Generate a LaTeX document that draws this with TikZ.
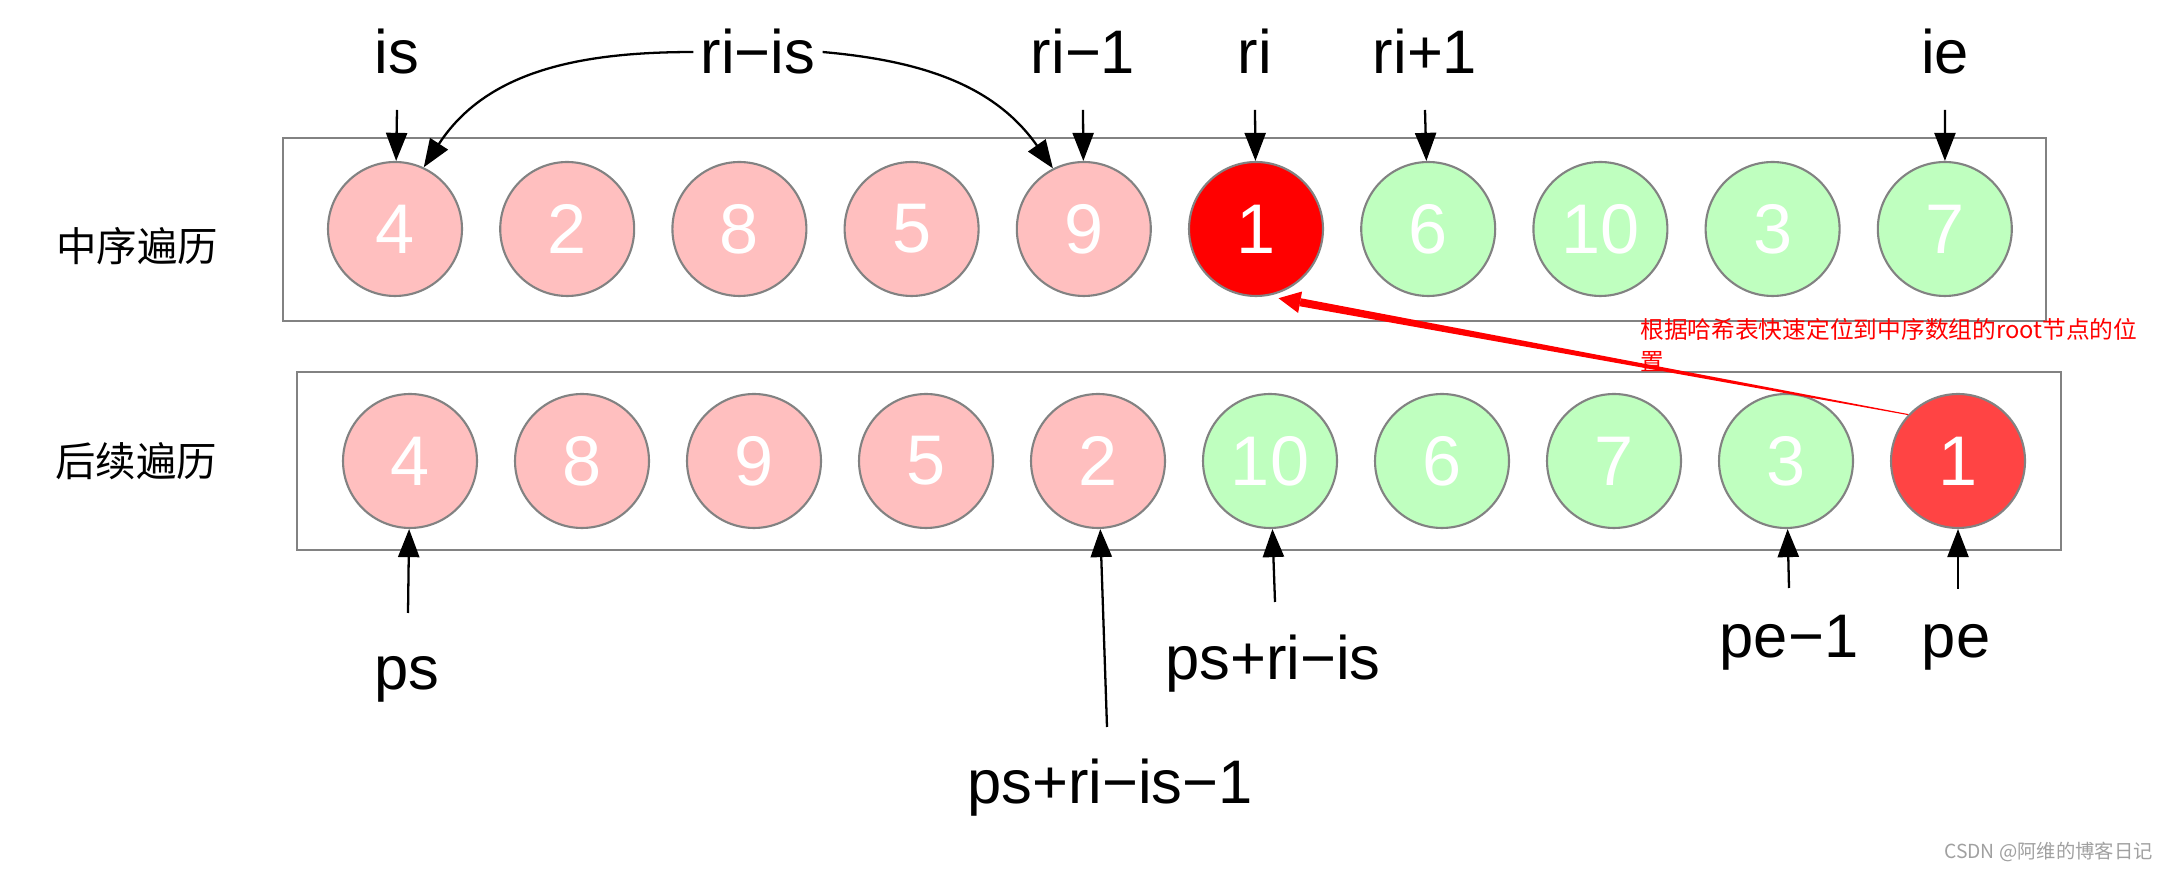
\documentclass[tikz,border=0pt]{standalone}
\usepackage{fontspec}
\setmainfont{Liberation Sans}
\newfontfamily\cjk{Noto Sans CJK SC}
\usepackage{tikz}
\usetikzlibrary{arrows.meta,calc}
\definecolor{lpink}{HTML}{FFBFBF}
\definecolor{lgreen}{HTML}{BFFFBF}
\definecolor{rootred}{HTML}{FF0000}
\definecolor{rootlight}{HTML}{FF4444}
\definecolor{rimgray}{HTML}{828282}
\definecolor{wmgray}{HTML}{A0A0A0}

\begin{document}
\begin{tikzpicture}[x=0.02cm, y=0.02cm,
    ball/.style={shape=circle, draw=rimgray, line width=1.2pt, minimum size=2.68cm,
      inner sep=0pt, text=white, font=\fontsize{40}{40}\selectfont},
    lbl/.style={anchor=base, inner sep=4pt, font=\fontsize{35}{35}\selectfont},
    side/.style={font=\cjk\fontsize{23}{23}\selectfont, inner sep=0pt},
    arr/.style={-{Triangle[length=16pt,width=12pt]}, line width=1.3pt},
    box/.style={draw=rimgray, line width=1.3pt}]
    \useasboundingbox (0,0) rectangle (2170,872);

    \draw[box] (283,551) rectangle (2046,734);
    \draw[box] (297,322) rectangle (2061,500);

    \node[side] (inlbl) at (137,626) {中序遍历};
    \node[side] (postlbl) at (136,411) {后续遍历};

    \foreach \v/\c [count=\k] in {4/lpink,2/lpink,8/lpink,5/lpink,9/lpink,1/rootred,6/lgreen,10/lgreen,3/lgreen,7/lgreen}
      \node[ball, fill=\c] (i\k) at ({395+172.2*(\k-1)},643) {\v};
    \foreach \v/\c [count=\k] in {4/lpink,8/lpink,9/lpink,5/lpink,2/lpink,10/lgreen,6/lgreen,7/lgreen,3/lgreen,1/rootlight}
      \node[ball, fill=\c] (p\k) at ({410+172*(\k-1)},411) {\v};

    \node[lbl] (is) at (397,798) {is};
    \node[lbl] (riis) at (758,798) {ri−is};
    \node[lbl] (rim) at (1083,798) {ri−1};
    \node[lbl] (ri) at (1255,798) {ri};
    \node[lbl] (rip) at (1425,798) {ri+1};
    \node[lbl] (ie) at (1945,798) {ie};

    \foreach \n/\x/\k in {is/397/1,rim/1083/5,ri/1255/6,rip/1425/7,ie/1945/10}
      \draw[arr] (\x,762) coordinate (t\n) -- (i\k);
    \draw[arr] (riis.west) to[out=180, in=57] (i1.65);
    \draw[arr] (riis.east) to[out=-5, in=125] (i5.117);

    \node[lbl] (ps) at (407,182) {ps};
    \node[lbl] (psm) at (1110,68) {ps+ri−is−1};
    \node[lbl] (psr) at (1273,192) {ps+ri−is};
    \node[lbl] (pem) at (1789,214) {pe−1};
    \node[lbl] (pe) at (1956,214) {pe};

    \coordinate (ups) at (408,259);
    \coordinate (upsm) at (1107,145);
    \coordinate (upsr) at (1275,270);
    \coordinate (upem) at (1789,284);
    \coordinate (upe) at (1958,283);
    \draw[arr] (ups) -- (p1);
    \draw[arr] (upsm) -- (p5);
    \draw[arr] (upsr) -- (p6);
    \draw[arr] (upem) -- (p9);
    \draw[arr] (upe) -- (p10);

    \coordinate (hs) at (p10.137);
    \coordinate (ht) at ($(i6.center)!1.07!(i6.-72)$);
    \coordinate (hb) at ($(ht)!12.5pt!(hs)$);
    \fill[red] ($(hs)!0.3pt!90:(ht)$) -- ($(hb)!2.3pt!-90:(hs)$)
      -- ($(hb)!2.3pt!90:(hs)$) -- ($(hs)!0.3pt!-90:(ht)$) -- cycle;
    \fill[red] (ht) -- ($(hb)!6.2pt!90:(hs)$) -- ($(hb)!6.2pt!-90:(hs)$) -- cycle;

    \node[anchor=north west, text=red, align=left, inner sep=0pt,
      font=\cjk\fontsize{13.5}{18}\selectfont] (hint) at (1640,554)
      {根据哈希表快速定位到中序数组的root节点的位\\置};

    \node[anchor=east, text=wmgray, inner sep=0pt,
      font=\cjk\fontsize{11}{11}\selectfont] (mark) at (2153,20) {CSDN @阿维的博客日记};
\end{tikzpicture}
\end{document}
